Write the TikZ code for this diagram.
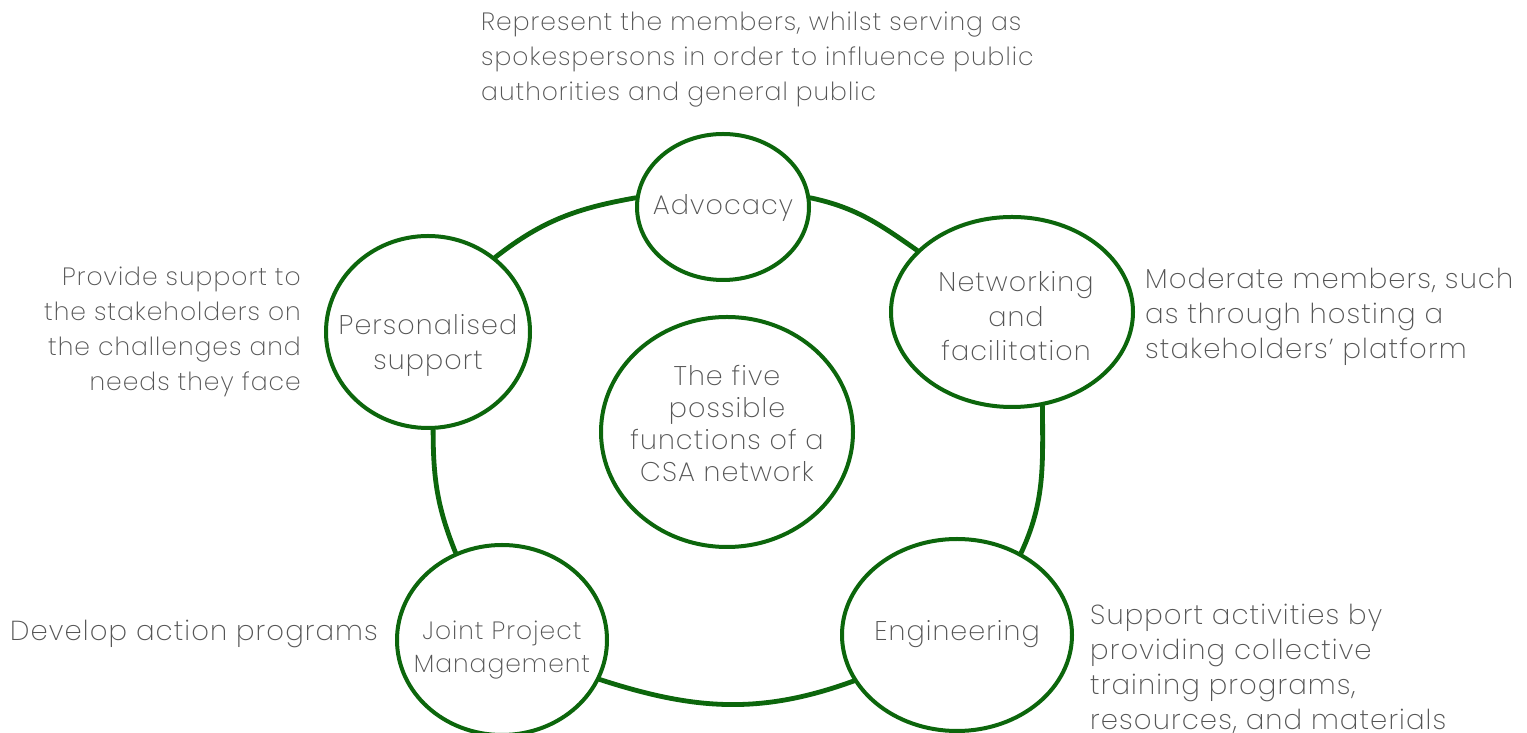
\documentclass[tikz,border=0pt]{standalone}
\usepackage{fontspec}
\IfFontExistsTF{Poppins ExtraLight}{\setmainfont{Poppins ExtraLight}[LetterSpace=4]}{\IfFontExistsTF{Poppins Light}{\setmainfont{Poppins Light}[LetterSpace=4]}{\setmainfont{Poppins}[LetterSpace=4]}}
\usetikzlibrary{shapes.geometric}
\definecolor{fgreen}{RGB}{12,102,12}
\definecolor{tgrey}{RGB}{85,85,85}
\newcommand\ntext[3]{\makebox[0pt]{\kern#1\raisebox{#2}[0pt][0pt]{\begin{tabular}{@{}c@{}}#3\end{tabular}}}}
\begin{document}
\begin{tikzpicture}[x=1pt,y=1pt,
  func/.style={ellipse, draw=fgreen, line width=4pt, inner sep=0pt, text=tgrey},
  link/.style={draw=fgreen, line width=4.8pt, line cap=round},
  desc/.style={text=tgrey, inner sep=0pt, font=\fontsize{25}{35}\selectfont},
  bigdesc/.style={desc, font=\fontsize{27.5}{35}\selectfont}]
\path[use as bounding box, fill=white] (0,0) rectangle (1527,733);
% function circles
\node[func, minimum width=172pt, minimum height=146pt, font=\fontsize{27}{33}\selectfont] (adv) at (723,526) {\ntext{0pt}{-7pt}{Advocacy}};
\node[func, minimum width=242pt, minimum height=190pt, font=\fontsize{27}{34.5}\selectfont] (net) at (1012,421) {\ntext{8pt}{-13.5pt}{Networking\\and\\facilitation}};
\node[func, minimum width=204pt, minimum height=192pt, font=\fontsize{27}{35}\selectfont] (pers) at (428,401) {\ntext{0pt}{-19.5pt}{Personalised\\support}};
\node[func, minimum width=252pt, minimum height=230pt, font=\fontsize{27}{32}\selectfont] (core) at (727,301) {\ntext{0pt}{-1pt}{The five\\possible\\functions of a\\CSA network}};
\node[func, minimum width=210pt, minimum height=190pt, font=\fontsize{25}{33}\selectfont] (joint) at (502,93) {\ntext{0pt}{-16pt}{Joint Project\\Management}};
\node[func, minimum width=230pt, minimum height=192pt, font=\fontsize{27}{33}\selectfont] (eng) at (957,98) {\ntext{0pt}{-5pt}{Engineering}};
% connectors
\draw[link] (pers.48) to[out=38,in=190] (adv.174);
\draw[link] (adv.6) to[out=-12,in=145] (net.147);
\draw[link] (net.-72) to[out=-90,in=65] (eng.52);
\draw[link] (eng.204) to[out=200,in=-18] (joint.-22);
\draw[link] (joint.118) to[out=112,in=-90] (pers.-87);
% descriptions
\node[desc, anchor=north west, align=left] (dadv) at (481,721) {Represent the members, whilst serving as\\spokespersons in order to influence public\\authorities and general public};
\node[desc, anchor=north east, align=right] (dpers) at (301,466) {Provide support to\\the stakeholders on\\the challenges and\\needs they face};
\node[bigdesc, anchor=north west, align=left] (dnet) at (1145,465) {Moderate members, such\\as through hosting a\\stakeholders’ platform};
\node[bigdesc, anchor=base west] (djoint) at (10,92) {Develop action programs};
\node[bigdesc, anchor=north west, align=left] (deng) at (1090,129) {Support activities by\\providing collective\\training programs,\\resources, and materials};
\end{tikzpicture}
\end{document}
